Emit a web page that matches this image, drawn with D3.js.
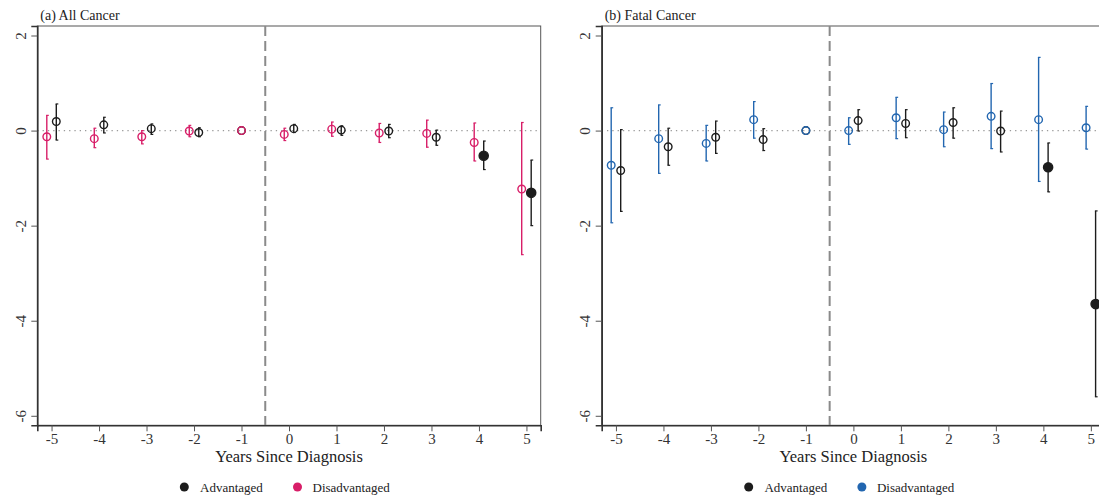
<!DOCTYPE html>
<html lang="en">
<head>
  <meta charset="UTF-8" />
  <title>Cancer Event Study</title>
  <style>
    body { margin: 0; background: #fff; }
    svg { display: block; font-family: 'Liberation Serif', 'Times New Roman', serif; }
    .tick text { fill: #333; }
  </style>
</head>
<body>
  <svg width="1099" height="497"></svg>

  <script src="https://d3js.org/d3.v7.min.js"></script>
  <script>
    // --- Data
    const years = [-5, -4, -3, -2, -1, 0, 1, 2, 3, 4, 5];
    const refYear = -1;
    const xTicks = [-5, -4, -3, -2, -1, 0, 1, 2, 3, 4, 5];
    const yTicks = [2, 0, -2, -4, -6];

    // (a) All Cancer
    const allAdvEst = [0.19, 0.12, 0.04, -0.04, 0, 0.04, 0.01, -0.01, -0.14, -0.53, -1.31];
    const allAdvLo  = [-0.20, -0.05, -0.08, -0.13, null, -0.04, -0.10, -0.15, -0.31, -0.82, -2.00];
    const allAdvHi  = [0.56, 0.28, 0.14, 0.06, null, 0.13, 0.10, 0.13, 0.01, -0.22, -0.62];
    const allAdvSig = [false, false, false, false, false, false, false, false, false, true, true];
    const allDisEst = [-0.13, -0.17, -0.13, -0.01, 0, -0.08, 0.03, -0.05, -0.06, -0.25, -1.23];
    const allDisLo  = [-0.60, -0.36, -0.28, -0.13, null, -0.21, -0.12, -0.25, -0.35, -0.64, -2.61];
    const allDisHi  = [0.32, 0.05, 0.00, 0.11, null, 0.05, 0.18, 0.15, 0.22, 0.16, 0.17];

    // (b) Fatal Cancer
    const fatAdvEst = [-0.84, -0.34, -0.14, -0.19, 0, 0.21, 0.15, 0.17, -0.01, -0.77, -3.65];
    const fatAdvLo  = [-1.70, -0.73, -0.48, -0.42, null, -0.01, -0.15, -0.16, -0.45, -1.29, -5.60];
    const fatAdvHi  = [0.02, 0.05, 0.20, 0.04, null, 0.44, 0.44, 0.48, 0.41, -0.26, -1.69];
    const fatAdvSig = [false, false, false, false, false, false, false, false, false, true, true];
    const fatDisEst = [-0.73, -0.17, -0.27, 0.23, 0, 0.00, 0.27, 0.02, 0.30, 0.23, 0.06];
    const fatDisLo  = [-1.94, -0.90, -0.64, -0.16, null, -0.29, -0.17, -0.34, -0.38, -1.07, -0.39];
    const fatDisHi  = [0.48, 0.54, 0.11, 0.61, null, 0.27, 0.70, 0.39, 0.99, 1.54, 0.51];

    const black = "#1c1c1c";
    const pink = "#d81e68";
    const blue = "#2266b0";

    // --- Layout
    const svg = d3.select("svg");
    const panelW = 564.4;
    const margin = { top: 26, left: 37.3, plotW: 503.4, bottom: 425.3 };

    function drawPanel(offsetX, title, disColor, adv, dis) {
      const g = svg.append("g").attr("transform", `translate(${offsetX},0)`);
      const x = d3.scaleLinear().domain([-5.3, 5.3]).range([margin.left, margin.left + margin.plotW]);
      const y = d3.scaleLinear().domain([-6.2, 2.2]).range([margin.bottom, margin.top]);

      // title
      g.append("text").attr("x", margin.left + 3).attr("y", 20)
        .attr("font-size", 14).attr("fill", "#222").text(title);

      // plot box
      g.append("rect")
        .attr("x", x(-5.3)).attr("y", y(2.2))
        .attr("width", x(5.3) - x(-5.3)).attr("height", y(-6.2) - y(2.2))
        .attr("fill", "none").attr("stroke", "#555").attr("stroke-width", 1);

      // zero line (dotted)
      g.append("line")
        .attr("x1", x(-5.3)).attr("x2", x(5.3))
        .attr("y1", y(0)).attr("y2", y(0))
        .attr("stroke", "#9a9a9a").attr("stroke-width", 1.3)
        .attr("stroke-dasharray", "1.3,4");

      // diagnosis line (dashed)
      g.append("line")
        .attr("x1", x(-0.5)).attr("x2", x(-0.5))
        .attr("y1", y(2.2)).attr("y2", y(-6.2))
        .attr("stroke", "#8a8a8a").attr("stroke-width", 2)
        .attr("stroke-dasharray", "10,5");

      // axes
      const xAxisG = g.append("g").attr("transform", `translate(0,${margin.bottom})`)
        .call(d3.axisBottom(x).tickValues(xTicks).tickSize(6).tickPadding(2).tickFormat(d3.format("d")));
      xAxisG.select(".domain").attr("stroke", "#333").attr("stroke-width", 1.6);
      xAxisG.selectAll(".tick line").attr("stroke", "#555");
      xAxisG.selectAll(".tick text").attr("font-size", 15).attr("font-family", "'Liberation Serif', serif")
        .text(d => d < 0 ? "-" + Math.abs(d) : d);

      const yAxisG = g.append("g").attr("transform", `translate(${margin.left},0)`)
        .call(d3.axisLeft(y).tickValues(yTicks).tickSize(6).tickFormat(d => d < 0 ? "-" + Math.abs(d) : d));
      yAxisG.select(".domain").attr("stroke", "#333").attr("stroke-width", 1.6);
      yAxisG.selectAll(".tick line").attr("stroke", "#555");
      yAxisG.selectAll(".tick text")
        .attr("font-size", 15).attr("font-family", "'Liberation Serif', serif")
        .attr("x", null).attr("dy", null)
        .attr("text-anchor", "middle")
        .attr("transform", "translate(-11.8,0) rotate(-90)");

      // x axis title
      g.append("text")
        .attr("x", (x(-5.3) + x(5.3)) / 2).attr("y", 461.5)
        .attr("text-anchor", "middle").attr("font-size", 16.5).attr("fill", "#222")
        .text("Years Since Diagnosis");

      // points
      function series(s, color, shift) {
        const rows = years.map((yr, i) => ({
          yr, est: s.est[i], lo: s.lo[i], hi: s.hi[i], sig: s.sig ? s.sig[i] : false,
          xp: yr === refYear ? yr : yr + shift
        }));
        const sg = g.append("g");
        const ci = rows.filter(d => d.lo != null);
        sg.selectAll("line.ci").data(ci).join("line").attr("class", "ci")
          .attr("x1", d => x(d.xp)).attr("x2", d => x(d.xp))
          .attr("y1", d => y(d.lo)).attr("y2", d => y(d.hi))
          .attr("stroke", color).attr("stroke-width", 1.4);
        ["lo", "hi"].forEach(k => {
          sg.selectAll("line.cap-" + k).data(ci).join("line").attr("class", "cap-" + k)
            .attr("x1", d => x(d.xp) - 0.7).attr("x2", d => x(d.xp) + 2)
            .attr("y1", d => y(d[k])).attr("y2", d => y(d[k]))
            .attr("stroke", color).attr("stroke-width", 1.2);
        });
        sg.selectAll("circle").data(rows).join("circle")
          .attr("cx", d => x(d.xp)).attr("cy", d => y(d.est))
          .attr("r", d => d.sig ? 4.6 : 3.8)
          .attr("fill", d => d.sig ? color : "none")
          .attr("stroke", color).attr("stroke-width", 1.4);
      }
      series(adv, black, 0.1);
      series(dis, disColor, -0.1);

      // legend
      const leg = g.append("g").attr("font-size", 13).attr("fill", "#222");
      const items = [{ label: "Advantaged", color: black, cx: 184.3, tx: 200 },
                     { label: "Disadvantaged", color: disColor, cx: 297.5, tx: 312.5 }];
      leg.selectAll("circle").data(items).join("circle")
        .attr("cx", d => d.cx).attr("cy", 487).attr("r", 4.5).attr("fill", d => d.color);
      leg.selectAll("text").data(items).join("text")
        .attr("x", d => d.tx).attr("y", 491.5).text(d => d.label);
    }

    drawPanel(0, "(a) All Cancer", pink,
      { est: allAdvEst, lo: allAdvLo, hi: allAdvHi, sig: allAdvSig },
      { est: allDisEst, lo: allDisLo, hi: allDisHi });
    drawPanel(panelW, "(b) Fatal Cancer", blue,
      { est: fatAdvEst, lo: fatAdvLo, hi: fatAdvHi, sig: fatAdvSig },
      { est: fatDisEst, lo: fatDisLo, hi: fatDisHi });
  </script>
</body>
</html>
